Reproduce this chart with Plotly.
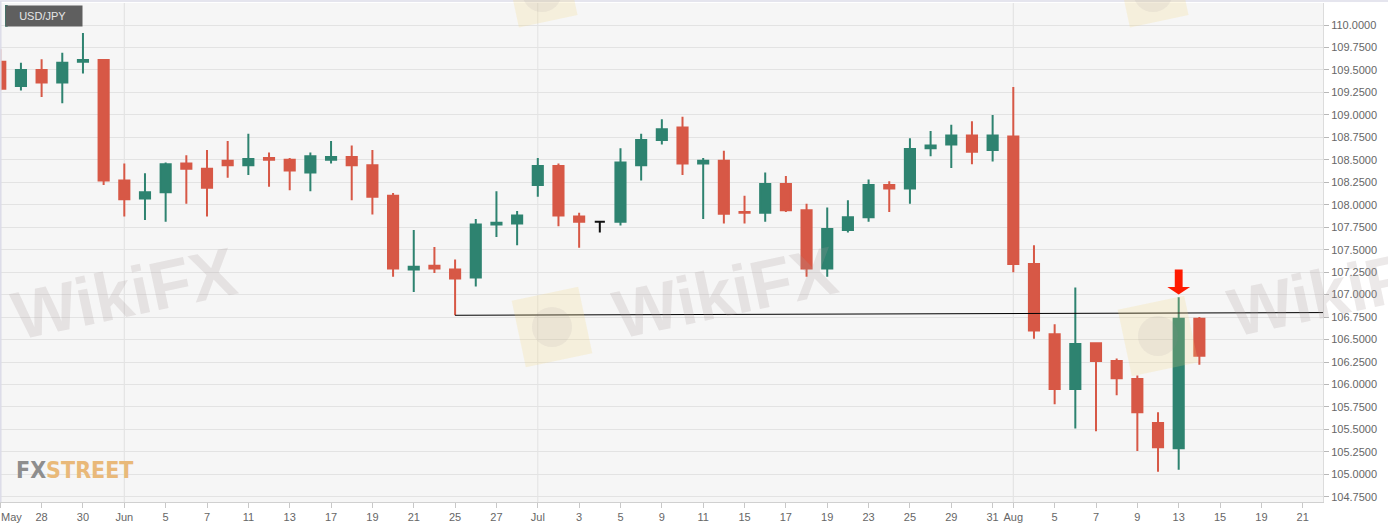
import math
import plotly.graph_objects as go
import pandas as pd

# ---------------- data ----------------
symbol = "USD/JPY"
calendar = [d.strftime("%Y-%m-%d") for d in pd.bdate_range("2019-05-24", "2019-08-21")]
trading_days = calendar[:59]

open_ = [109.59, 109.32, 109.50, 109.36, 109.59, 109.61, 108.27, 108.07, 108.14, 108.46,
         108.40, 108.49, 108.44, 108.52, 108.50, 108.36, 108.50, 108.53, 108.44, 108.10,
         107.28, 107.32, 107.28, 107.19, 107.78, 107.79, 108.22, 108.43, 107.87, 107.81,
         107.81, 108.44, 108.72, 108.86, 108.46, 108.49, 107.92, 107.91, 108.23, 107.94,
         107.29, 107.72, 107.86, 108.22, 108.18, 108.63, 108.67, 108.77, 108.61, 108.76,
         107.34, 106.56, 105.95, 106.46, 106.26, 106.06, 105.57, 105.29, 106.73]
high = [109.73, 109.58, 109.62, 109.69, 109.91, 109.62, 108.46, 108.35, 108.47, 108.55,
        108.61, 108.71, 108.79, 108.58, 108.52, 108.58, 108.71, 108.66, 108.61, 108.13,
        107.72, 107.53, 107.39, 107.84, 108.15, 107.93, 108.52, 108.46, 107.91, 107.82,
        108.63, 108.79, 108.95, 108.98, 108.52, 108.60, 108.10, 108.36, 108.32, 108.01,
        107.97, 108.05, 108.28, 108.26, 108.74, 108.82, 108.89, 108.93, 109.00, 109.31,
        107.55, 106.67, 107.08, 106.46, 106.29, 106.10, 105.69, 106.97, 106.75]
low = [109.27, 109.27, 109.20, 109.13, 109.46, 108.22, 107.87, 107.83, 107.81, 108.01,
       107.87, 108.30, 108.33, 108.20, 108.16, 108.15, 108.46, 108.05, 107.89, 107.20,
       107.03, 107.24, 106.77, 107.09, 107.64, 107.55, 108.09, 107.76, 107.52, 107.69,
       107.77, 108.27, 108.67, 108.33, 107.84, 107.79, 107.79, 107.81, 107.92, 107.20,
       107.20, 107.69, 107.81, 107.92, 108.01, 108.54, 108.41, 108.45, 108.48, 107.25,
       106.51, 105.78, 105.51, 105.48, 105.88, 105.26, 105.03, 105.05, 106.22]
close = [109.29, 109.50, 109.36, 109.58, 109.61, 108.27, 108.06, 108.14, 108.45, 108.40,
         108.19, 108.44, 108.51, 108.50, 108.38, 108.54, 108.53, 108.44, 108.09, 107.29,
         107.31, 107.29, 107.18, 107.78, 107.80, 107.88, 108.43, 107.88, 107.81, 107.81,
         108.47, 108.72, 108.84, 108.46, 108.49, 107.90, 107.91, 108.23, 107.94, 107.29,
         107.73, 107.86, 108.22, 108.18, 108.62, 108.66, 108.77, 108.59, 108.77, 107.34,
         106.60, 105.95, 106.45, 106.26, 106.07, 105.69, 105.30, 106.73, 106.32]

tick_dates = ["2019-05-28", "2019-05-30", "2019-06-03", "2019-06-05", "2019-06-07",
              "2019-06-11", "2019-06-13", "2019-06-17", "2019-06-19", "2019-06-21", "2019-06-25",
              "2019-06-27", "2019-07-01", "2019-07-03", "2019-07-05", "2019-07-09", "2019-07-11",
              "2019-07-15", "2019-07-17", "2019-07-19", "2019-07-23", "2019-07-25", "2019-07-29",
              "2019-07-31", "2019-08-01", "2019-08-05", "2019-08-07", "2019-08-09", "2019-08-13",
              "2019-08-15", "2019-08-19", "2019-08-21"]
tick_text = ["28", "30", "Jun", "5", "7", "11", "13", "17", "19", "21", "25", "27",
             "Jul", "3", "5", "9", "11", "15", "17", "19", "23", "25", "29", "31",
             "Aug", "5", "7", "9", "13", "15", "19", "21"]
first_tick_date = "2019-05-24"
first_tick_text = "May"
month_starts = ["2019-06-03", "2019-07-01", "2019-08-01"]

support_start_date = "2019-06-25"
support_end_level = 106.80
signal_date = "2019-08-13"

# ---------------- styling ----------------
GREEN = "#2e8370"
RED = "#d75846"
x_range = [-0.0126, 63.98]
y_range = [104.692, 110.245]

pos = {d: i for i, d in enumerate(calendar)}
x = [pos[d] for d in trading_days]

flat = [o == c for o, c in zip(open_, close)]
def pick(arr, cond):
    return [v for v, f in zip(arr, flat) if f == cond]

fig = go.Figure()
fig.add_trace(go.Candlestick(
    x=pick(x, False), open=pick(open_, False), high=pick(high, False),
    low=pick(low, False), close=pick(close, False),
    increasing=dict(line=dict(color=GREEN, width=2), fillcolor=GREEN),
    decreasing=dict(line=dict(color=RED, width=2), fillcolor=RED),
    whiskerwidth=0, hoverinfo="skip", showlegend=False))
fig.add_trace(go.Candlestick(
    x=pick(x, True), open=pick(open_, True), high=pick(high, True),
    low=pick(low, True), close=pick(close, True),
    increasing=dict(line=dict(color="#111111", width=2), fillcolor="#111111"),
    decreasing=dict(line=dict(color="#111111", width=2), fillcolor="#111111"),
    whiskerwidth=0, hoverinfo="skip", showlegend=False))

W, H0, B = 1323.0, 499.0, 502.0
def px(xp): return xp / W
def py(yp): return (B - yp) / H0

shapes = []
for d in month_starts:
    shapes.append(dict(type="line", xref="x", yref="paper", x0=pos[d], x1=pos[d], y0=0, y1=1,
                       line=dict(color="#e2e2e2", width=1), layer="below"))
# frame borders (top and left)
shapes.append(dict(type="line", xref="paper", yref="paper", x0=0, x1=1.05, y0=py(1), y1=py(1),
                   line=dict(color="#dcdce8", width=1.5)))
shapes.append(dict(type="line", xref="paper", yref="paper", x0=px(0.8), x1=px(0.8), y0=0, y1=py(1),
                   line=dict(color="#dcdce8", width=1.5)))
# support line from the June 25 low
si = pos[support_start_date]
shapes.append(dict(type="line", xref="x", yref="y", x0=si, x1=x_range[1],
                   y0=low[trading_days.index(support_start_date)], y1=support_end_level,
                   line=dict(color="#000000", width=1)))
# red arrow above the Aug 13 candle
ai = pos[signal_date]
tip = high[trading_days.index(signal_date)] + 0.03
head = tip + 0.085
top = tip + 0.28
sw, hw = 0.19, 0.55
path = (f"M {ai-sw},{top} L {ai+sw},{top} L {ai+sw},{head} L {ai+hw},{head} "
        f"L {ai},{tip} L {ai-hw},{head} L {ai-sw},{head} Z")
shapes.append(dict(type="path", xref="x", yref="y", path=path,
                   fillcolor="#ff1a00", line=dict(width=0)))

# faint watermark badges (rotated squares)
def badge(cx, cy, size, ang=-12):
    t = math.radians(-ang)
    pts = []
    h = size / 2
    for dx, dy in [(-h, -h), (h, -h), (h, h), (-h, h)]:
        xr = cx + dx * math.cos(t) + dy * math.sin(t)
        yr = cy - dx * math.sin(t) + dy * math.cos(t)
        pts.append((px(xr), py(yr)))
    return "M " + " L ".join(f"{a},{b}" for a, b in pts) + " Z"

for cx, cy, s in [(552, 327, 68), (1158, 336, 68), (542, -8, 60), (1153, -8, 60)]:
    shapes.append(dict(type="path", xref="paper", yref="paper", path=badge(cx, cy, s),
                       fillcolor="rgba(246,214,120,0.20)", line=dict(width=0), layer="above"))
    shapes.append(dict(type="circle", xref="paper", yref="paper",
                       x0=px(cx - 20), x1=px(cx + 20), y0=py(cy + 20), y1=py(cy - 20),
                       fillcolor="rgba(150,140,150,0.10)", line=dict(width=0), layer="above"))
# green stripe of the symbol label
shapes.append(dict(type="rect", xref="paper", yref="paper", x0=px(5), x1=px(7.7),
                   y0=py(26.7), y1=py(5), fillcolor="#2e8370", line=dict(width=0), layer="above"))

annotations = [
    dict(xref="paper", yref="paper", x=px(5), y=py(5), xanchor="left", yanchor="top",
         text=f"&nbsp;&nbsp;&nbsp;{symbol}&nbsp;&nbsp;&nbsp;&nbsp;", showarrow=False,
         font=dict(family="Liberation Sans, Arial, sans-serif", size=11, color="#e6e6e6"),
         bgcolor="#5f5f5f", borderpad=4),
    dict(xref="paper", yref="paper", x=px(14), y=py(470), xanchor="left", yanchor="middle",
         text="<b><span style='color:#8e8e8e'>FX</span><span style='color:#e9b979'>STREET</span></b>",
         showarrow=False,
         font=dict(family="Liberation Sans Narrow, DejaVu Sans Condensed, Roboto Condensed, Liberation Sans, sans-serif",
                   size=23)),
    dict(xref="x", yref="paper", x=pos[first_tick_date], y=py(509), xanchor="left", yanchor="top",
         text=first_tick_text, showarrow=False, xshift=-1,
         font=dict(family="Liberation Sans, Arial, sans-serif", size=11, color="#666666")),
]
for cxp, cyp in [(124, 293), (725, 292), (1340, 290)]:
    annotations.append(dict(xref="paper", yref="paper", x=px(cxp), y=py(cyp),
                            xanchor="center", yanchor="middle", text="<b>WikiFX</b>",
                            showarrow=False, textangle=-12,
                            font=dict(family="Liberation Sans, Arial, sans-serif", size=68,
                                      color="rgba(170,155,155,0.22)")))

fig.update_layout(
    width=1388, height=528, autosize=False,
    margin=dict(l=0, r=65, t=3, b=26),
    paper_bgcolor="#ffffff", plot_bgcolor="#f6f6f6",
    font=dict(family="Liberation Sans, Arial, sans-serif", size=11, color="#666666"),
    showlegend=False, hovermode=False,
    shapes=shapes, annotations=annotations,
    xaxis=dict(range=x_range, tickmode="array",
               tickvals=[pos[first_tick_date]] + [pos[d] for d in tick_dates],
               ticktext=[""] + tick_text, ticks="outside", ticklen=5, tickcolor="#c8c8c8",
               showgrid=False, zeroline=False, showline=True, linecolor="#d0d0d0",
               rangeslider=dict(visible=False), fixedrange=True,
               tickfont=dict(size=11, color="#666666")),
    yaxis=dict(side="right", range=y_range, tick0=104.75, dtick=0.25, tickformat=".4f",
               ticks="outside", ticklen=5, tickcolor="#b8b8b8", gridcolor="#e3e3e3",
               showgrid=True, zeroline=False, showline=True, linecolor="#dcdcdc",
               fixedrange=True, tickfont=dict(size=11, color="#666666")),
)

fig.write_html("out.html", config={"displayModeBar": False},
               post_script="document.body.style.margin='0';")
